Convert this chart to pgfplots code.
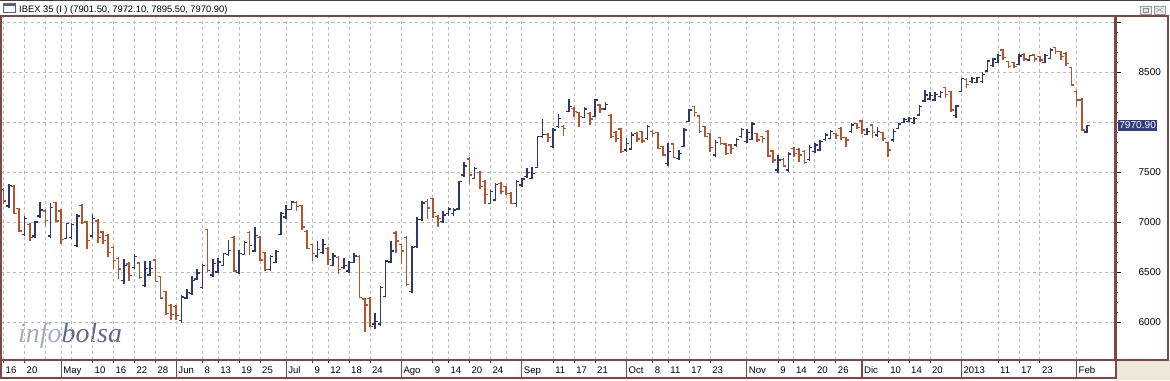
\documentclass[border=0pt]{standalone}
\usepackage{pgfplots}
\pgfplotsset{compat=1.18}
\usepackage{pgfplotstable}
\usepackage{fontspec}
\setmainfont{Liberation Sans}
\newfontfamily\wmfont{Liberation Serif}
\definecolor{upc}{RGB}{44,56,110}
\definecolor{dnc}{RGB}{180,84,46}
\definecolor{frm}{RGB}{128,70,70}
\definecolor{gridc}{RGB}{185,185,185}
\definecolor{tagc}{RGB}{50,60,128}
\definecolor{beige}{RGB}{236,233,216}
\definecolor{wminfo}{RGB}{168,172,192}
\definecolor{wmbolsa}{RGB}{98,104,140}

\pgfdeclareplotmark{otick}{\pgfpathmoveto{\pgfpoint{-2.8bp}{0pt}}\pgfpathlineto{\pgfpoint{0pt}{0pt}}\pgfusepathqstroke}
\pgfdeclareplotmark{ctick}{\pgfpathmoveto{\pgfpoint{0pt}{0pt}}\pgfpathlineto{\pgfpoint{2.8bp}{0pt}}\pgfusepathqstroke}

\pgfplotstableread{
i o h l c
1 7162 7378 7146 7371
4 6881 7063 6864 7037
6 6864 7013 6848 7004
7 7063 7205 7040 7123
9 6864 7189 6848 7146
12 6838 6997 6831 6990
13 6848 6997 6831 6980
14 6765 7080 6749 7063
17 6864 7080 6848 7037
23 6418 6633 6385 6567
25 6550 6682 6533 6659
27 6368 6616 6351 6540
28 6474 6616 6467 6540
34 6020 6269 5997 6252
35 6242 6335 6236 6295
36 6285 6461 6269 6418
37 6434 6533 6428 6494
38 6351 6583 6335 6567
40 6474 6633 6451 6590
41 6504 6646 6497 6603
42 6570 6696 6563 6686
43 6679 6828 6663 6719
45 6497 6719 6481 6686
46 6679 6812 6669 6795
48 6712 6954 6702 6871
51 6530 6669 6514 6656
52 6596 6719 6590 6706
53 6878 7099 6868 7086
54 7053 7176 7037 7126
55 7126 7215 7119 7202
60 6663 6812 6646 6729
61 6696 6835 6679 6778
63 6570 6689 6563 6663
65 6547 6643 6537 6570
66 6514 6613 6497 6596
67 6596 6696 6590 6663
71 5984 6093 5934 6007
72 5984 6365 5967 6348
73 6259 6623 6249 6613
74 6603 6812 6596 6712
78 6305 6762 6298 6745
79 6755 7053 6745 7027
80 7027 7209 7010 7192
84 7007 7113 6990 7073
85 7090 7150 7067 7133
86 7090 7140 7067 7123
87 7133 7413 7123 7407
88 7473 7607 7457 7563
90 7440 7557 7433 7540
93 7190 7323 7180 7307
94 7223 7397 7213 7380
98 7190 7423 7157 7407
99 7373 7447 7357 7433
100 7457 7540 7447 7500
101 7440 7557 7430 7490
102 7547 7863 7540 7857
103 7857 8033 7840 7880
105 7757 7940 7740 7923
106 7957 8080 7940 8040
108 8107 8233 8100 8157
111 8047 8150 8040 8133
113 8057 8230 8050 8223
115 8133 8200 8123 8180
119 7723 7840 7707 7790
120 7733 7907 7723 7873
123 7840 7973 7823 7957
127 7590 7790 7563 7707
129 7640 7723 7623 7690
130 7757 7940 7750 7923
131 8007 8133 8000 8123
136 7673 7823 7657 7797
140 7773 7840 7757 7830
141 7857 7940 7840 7930
142 7807 7930 7797 7897
143 7830 8007 7823 7983
148 7523 7673 7497 7623
150 7523 7707 7507 7683
154 7630 7773 7617 7750
155 7707 7797 7697 7773
156 7723 7823 7717 7807
157 7830 7890 7817 7873
158 7840 7923 7833 7907
162 7907 7990 7890 7973
165 7880 7940 7873 7907
167 7873 7957 7857 7907
170 7823 7933 7807 7907
171 7940 7990 7933 7983
172 8000 8040 7990 8030
173 8007 8057 8000 8040
174 8000 8057 7980 8040
175 8073 8173 8067 8157
176 8213 8323 8200 8273
177 8233 8300 8223 8267
178 8223 8300 8217 8280
179 8257 8313 8240 8300
182 8067 8173 8047 8163
183 8307 8447 8300 8440
185 8407 8457 8397 8440
186 8400 8457 8390 8447
187 8407 8500 8390 8480
188 8513 8623 8507 8613
189 8567 8647 8557 8633
190 8600 8680 8590 8667
194 8580 8680 8573 8663
196 8623 8673 8613 8667
199 8600 8680 8590 8667
200 8640 8740 8633 8723
207 7901.5 7972.1 7895.5 7970.9
}\upbars

\pgfplotstableread{
i o h l c
0 7328 7344 7179 7212
2 7361 7368 7080 7086
3 7139 7146 6904 6914
5 6980 6997 6815 6848
8 7113 7129 6964 7020
10 7195 7205 7003 7013
11 7113 7129 6782 6831
15 7169 7179 6980 6997
16 7004 7013 6732 6815
18 7013 7030 6798 6848
19 6904 6914 6782 6815
20 6871 6881 6649 6699
21 6749 6765 6533 6616
22 6639 6649 6434 6533
24 6583 6600 6418 6467
26 6593 6606 6434 6451
29 6623 6633 6401 6408
30 6457 6467 6236 6242
31 6308 6318 6077 6087
32 6169 6186 6020 6077
33 6159 6169 6020 6070
39 6931 6937 6500 6517
44 6851 6861 6504 6514
47 6901 6917 6669 6768
49 6851 6861 6613 6623
50 6696 6706 6514 6530
56 7199 7209 7109 7159
57 7166 7176 6921 6954
58 6911 6921 6729 6735
59 6778 6788 6613 6686
62 6735 6752 6570 6630
64 6646 6663 6487 6530
68 6656 6669 6239 6245
69 6232 6239 5908 6173
70 6239 6249 5951 5958
75 6894 6911 6689 6812
76 6778 6788 6580 6712
77 6845 6861 6365 6375
81 7209 7232 7037 7143
82 7240 7247 7040 7100
83 7057 7073 6957 7040
89 7633 7657 7387 7473
91 7500 7513 7333 7357
92 7407 7423 7180 7280
95 7390 7407 7280 7307
96 7357 7363 7273 7290
97 7290 7307 7180 7190
104 7880 7890 7807 7847
107 7957 7973 7867 7940
109 8140 8157 8057 8107
110 8100 8107 7957 8057
112 8090 8107 7973 8033
114 8173 8183 8090 8133
116 8067 8080 7847 7857
117 7900 7913 7800 7840
118 7933 7947 7690 7707
121 7890 7900 7807 7833
122 7907 7913 7790 7813
124 7907 7923 7857 7890
125 7897 7907 7733 7740
126 7757 7763 7663 7673
128 7783 7790 7640 7650
132 8157 8163 8057 8097
133 8063 8073 7890 7907
134 7957 7963 7850 7857
135 7890 7897 7707 7750
137 7847 7857 7773 7790
138 7783 7790 7673 7690
139 7773 7783 7683 7740
144 7890 7897 7807 7823
145 7857 7863 7797 7840
146 7907 7923 7650 7663
147 7713 7723 7597 7623
149 7630 7640 7550 7563
151 7740 7750 7650 7690
152 7730 7740 7607 7673
153 7707 7723 7583 7597
159 7890 7897 7830 7867
160 7940 7957 7823 7850
161 7850 7857 7757 7823
163 7990 7997 7930 7950
164 8013 8023 7880 7923
166 7973 7980 7847 7900
168 7897 7907 7813 7840
169 7797 7807 7657 7723
180 8347 8357 8240 8280
181 8307 8313 8107 8123
184 8430 8440 8347 8380
191 8723 8730 8623 8647
192 8607 8613 8540 8557
193 8600 8607 8540 8557
195 8680 8690 8613 8633
197 8673 8683 8607 8633
198 8657 8663 8600 8623
201 8747 8757 8680 8707
202 8707 8713 8623 8657
203 8690 8700 8567 8590
204 8547 8557 8367 8373
205 8307 8323 8167 8223
206 8223 8240 7917 7923
}\downbars

\begin{document}
\begin{tikzpicture}[x=1bp,y=1bp]
\useasboundingbox (0,0) rectangle (1170,380);
\fill[white] (0,0) rectangle (1170,380);
\fill[beige] (1116,0) rectangle (1170,20);
% title bar
\draw[black!75, line width=1bp] (0,379.5) -- (1170,379.5);
\draw[upc!80, fill=white, line width=0.8bp] (3.5,367.5) rectangle (15.5,376.5);
\fill[upc!80] (3.5,374) rectangle (15.5,376.5);
\node[anchor=base west, inner sep=0pt, font=\fontsize{9.4}{11}\selectfont] at (19,368) {IBEX 35 (I ) (7901.50, 7972.10, 7895.50, 7970.90)};
\draw[black!40, fill=black!8] (1140,366) rectangle (1151,374);
\draw[black!45] (1143,368) rectangle (1148,372);
\draw[black!40, fill=black!8] (1154,366) rectangle (1165,374);
\draw[black!45] (1156,368) -- (1163,372) (1156,372) -- (1163,368);
% watermark
\node[anchor=base west, inner sep=0pt, font=\wmfont\itshape\fontsize{28}{30}\selectfont] at (18,38) {\textcolor{wminfo}{info}\textcolor{wmbolsa}{bolsa}};
\begin{axis}[
  at={(2,20)}, anchor=south west,
  scale only axis, width=1114bp, height=344bp,
  xmin=-0.478, xmax=212.36, ymin=5623, ymax=9063,
  clip=false,
  axis line style={draw=frm, line width=1.3bp},
  xtick={0,4,8,11,13,17,21,25,29,33,38,41,45,49,54,59,62,66,70,76,82,85,89,93,96,99,105,109,113,119,124,127,131,135,142,148,151,155,159,164,169,173,177,183,190,194,198,205},
  xticklabels={16,20,,May,,10,16,22,28,Jun,8,13,19,25,Jul,9,12,18,24,Ago,9,14,20,24,,Sep,11,17,21,Oct,8,11,17,23,Nov,9,14,20,26,Dic,10,14,20,2013,11,17,23,Feb},
  minor xtick={0,4,17,21,25,29,38,41,45,49,59,62,66,70,82,85,89,93,105,109,113,124,127,131,135,148,151,155,159,169,173,177,190,194,198},
  ytick={6000,6500,7000,7500,8000,8500,9000},
  yticklabels={6000,6500,7000,7500,,8500,},
  minor y tick num=4,
  xtick pos=bottom, ytick pos=right, yticklabel pos=right,
  tick align=outside,
  major tick length=6bp, minor tick length=3bp,
  major x tick style={draw=none},
  minor x tick style={draw=black!80, line width=0.8bp},
  y tick style={draw=black, line width=0.8bp},
  xticklabel style={anchor=base west, inner sep=0pt, xshift=2bp, yshift=-7bp, font=\fontsize{9.6}{11}\selectfont},
  yticklabel style={anchor=east, inner sep=0pt, xshift=40bp, font=\fontsize{10}{12}\selectfont},
  xmajorgrids, ymajorgrids,
  major grid style={draw=gridc, line width=0.8bp, dash pattern=on 3bp off 3bp},
]
% high-low lines
\addplot[draw=none, error bars/.cd, y dir=plus, y explicit, error mark=none,
  error bar style={draw=upc, solid, line width=1.6bp}]
  table[x=i, y=l, y error expr=\thisrow{h}-\thisrow{l}] {\upbars};
\addplot[draw=none, error bars/.cd, y dir=plus, y explicit, error mark=none,
  error bar style={draw=dnc, solid, line width=1.6bp}]
  table[x=i, y=l, y error expr=\thisrow{h}-\thisrow{l}] {\downbars};
% open and close ticks
\addplot[only marks, mark=otick, mark options={draw=upc, solid, line width=1.3bp}] table[x=i, y=o] {\upbars};
\addplot[only marks, mark=ctick, mark options={draw=upc, solid, line width=1.3bp}] table[x=i, y=c] {\upbars};
\addplot[only marks, mark=otick, mark options={draw=dnc, solid, line width=1.3bp}] table[x=i, y=o] {\downbars};
\addplot[only marks, mark=ctick, mark options={draw=dnc, solid, line width=1.3bp}] table[x=i, y=c] {\downbars};
% month separators in the date band
\foreach \m in {11,33,54,76,99,119,142,164,183,205} {
  \edef\tmp{\noexpand\draw[frm, line width=1.2bp] (axis cs:\m,5623) -- (axis cs:\m,5443);}\tmp
}
% last value tag
\node[fill=tagc, text=white, anchor=west, inner xsep=1.5bp, inner ysep=1.8bp, xshift=2.5bp, font=\fontsize{10.2}{12}\selectfont] at (axis cs:212.36,7970.9) {7970.90};
\end{axis}
% frames
\draw[frm, line width=1.3bp] (1,2) rectangle (1116,364);
\draw[frm, line width=1.3bp] (1116,20) -- (1168,20) -- (1168,364) -- (1116,364);
\end{tikzpicture}
\end{document}
